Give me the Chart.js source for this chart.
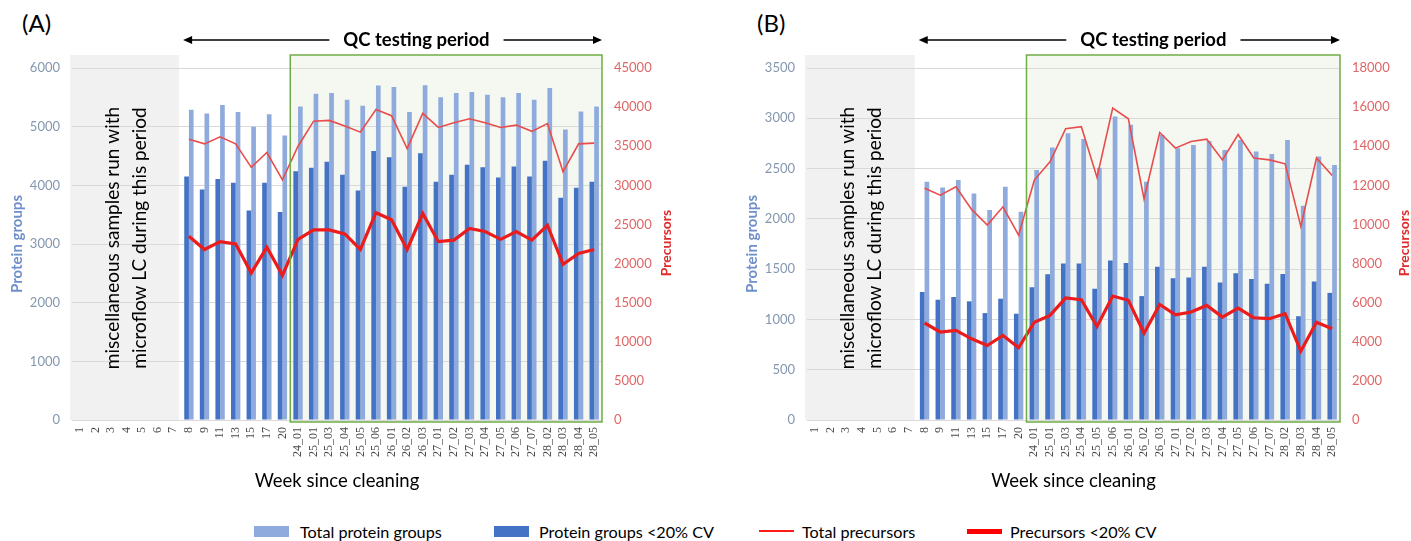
<!DOCTYPE html>
<html>
<head>
<meta charset="utf-8">
<script src="https://cdn.jsdelivr.net/npm/chart.js@4.4.1/dist/chart.umd.min.js"></script>
<style>
  html, body { margin: 0; padding: 0; background: #fff; overflow: hidden; }
  body { width: 1411px; height: 541px; position: relative; font-family: Lato, 'Open Sans', sans-serif; }
  .panel { position: absolute; top: 0; }
  .tag { position: absolute; top: 8px; font-size: 24px; color: #000; }
  .item { position: absolute; top: 522px; height: 20px; line-height: 20px; font-size: 16.2px; color: #000; white-space: nowrap; }
  .swatch { position: absolute; }
</style>
</head>
<body>
<div class="tag" style="left:22px">(A)</div>
<div class="tag" style="left:757px">(B)</div>
<div class="panel" style="left:0"><canvas id="chartA" width="700" height="500"></canvas></div>
<div class="panel" style="left:735px"><canvas id="chartB" width="676" height="500"></canvas></div>
<div id="legend"></div>
<script>
// x categories (weeks since cleaning)
const weeks = ['1', '2', '3', '4', '5', '6', '7', '8', '9', '11', '13', '15', '17', '20',
    '24_01', '25_01', '25_03', '25_04', '25_05', '25_06', '26_01', '26_02', '26_03',
    '27_01', '27_02', '27_03', '27_04', '27_05', '27_06', '27_07', '28_02', '28_03', '28_04', '28_05'];
const seriesNames = ['Total protein groups', 'Protein groups <20% CV', 'Total precursors', 'Precursors <20% CV'];
const noteLines = ['miscellaneous samples run with', 'microflow LC during this period'];
const nil = [null, null, null, null, null, null, null];

// panel A
const totalProteinsA = nil.concat([5290, 5225, 5370, 5250, 5000, 5210, 4850,
    5345, 5560, 5575, 5460, 5355, 5700, 5675, 5250, 5705, 5500, 5575, 5590, 5545, 5500, 5575, 5460, 5660, 4950, 5260, 5345]);
const cvProteinsA = nil.concat([4150, 3930, 4110, 4045, 3570, 4045, 3545,
    4240, 4300, 4400, 4180, 3910, 4585, 4480, 3975, 4545, 4060, 4180, 4350, 4310, 4135, 4320, 4150, 4420, 3790, 3960, 4060]);
const totalPrecursorsA = nil.concat([35900, 35300, 36200, 35300, 32300, 34200, 30700,
    35000, 38200, 38300, 37600, 36800, 39700, 38900, 34700, 39200, 37400, 38000, 38500, 38000, 37400, 37700, 36900, 37900, 31750, 35300, 35400]);
const cvPrecursorsA = nil.concat([23500, 21800, 22800, 22500, 18800, 22100, 18500,
    23100, 24300, 24300, 23800, 21800, 26500, 25600, 21800, 26400, 22800, 23000, 24500, 24100, 23100, 24100, 23000, 24900, 19900, 21300, 21800]);

// panel B
const totalProteinsB = nil.concat([2370, 2313, 2386, 2253, 2087, 2320, 2070,
    2486, 2710, 2851, 2795, 2509, 3018, 2935, 2370, 2835, 2702, 2735, 2775, 2685, 2785, 2669, 2645, 2785, 2130, 2619, 2536]);
const cvProteinsB = nil.concat([1273, 1196, 1223, 1180, 1063, 1206, 1057,
    1319, 1448, 1555, 1555, 1306, 1587, 1561, 1232, 1523, 1410, 1416, 1523, 1368, 1458, 1403, 1355, 1452, 1032, 1377, 1264]);
const totalPrecursorsB = nil.concat([11850, 11500, 11930, 10770, 9970, 10900, 9450,
    12270, 13200, 14900, 15000, 12400, 15950, 15400, 11300, 14700, 13900, 14240, 14360, 13300, 14600, 13400, 13300, 13100, 9900, 13400, 12500]);
const cvPrecursorsB = nil.concat([4960, 4500, 4580, 4150, 3810, 4320, 3700,
    5000, 5350, 6240, 6150, 4780, 6340, 6120, 4440, 5910, 5380, 5520, 5860, 5260, 5720, 5230, 5180, 5440, 3520, 5000, 4670]);

const colors = { light: '#8faadc', dark: '#4472c4', thin: '#e84c4c', thick: '#ec1c1c' };

// shaded periods, QC arrow, rotated note and right axis title
const panelDecor = {
    id: 'panelDecor',
    beforeDraw(chart) {
        const { ctx, chartArea: a, scales: { x } } = chart;
        const step = x.getPixelForValue(1) - x.getPixelForValue(0);
        const grayR = x.getPixelForValue(6) + step / 2;
        const qcL = x.getPixelForValue(14) - step / 2;
        ctx.save();
        ctx.fillStyle = '#f1f1f1';
        ctx.fillRect(a.left - 2, a.top - 13, grayR - a.left, a.bottom - a.top + 13);
        ctx.fillStyle = '#f4f8f0';
        ctx.fillRect(qcL, a.top - 13, a.right - qcL, a.bottom - a.top + 15);
        ctx.restore();
    },
    afterDatasetsDraw(chart) {
        const { ctx, chartArea: a, scales: { x } } = chart;
        const step = x.getPixelForValue(1) - x.getPixelForValue(0);
        const grayR = x.getPixelForValue(6) + step / 2;
        const qcL = x.getPixelForValue(14) - step / 2;
        ctx.save();
        // QC box border
        ctx.strokeStyle = '#70ad47';
        ctx.lineWidth = 1.5;
        ctx.strokeRect(qcL, a.top - 13, a.right - qcL, a.bottom - a.top + 15);

        // rotated note
        ctx.fillStyle = '#000';
        ctx.font = '19px Lato';
        ctx.textAlign = 'center';
        ctx.textBaseline = 'middle';
        ctx.translate((a.left + grayR) / 2 - 1, (a.top + a.bottom) / 2 - 6);
        ctx.rotate(-Math.PI / 2);
        ctx.fillText(noteLines[0], 0, -13);
        ctx.fillText(noteLines[1], 0, 14);
        ctx.setTransform(1, 0, 0, 1, 0, 0);

        // QC testing period arrow
        const L = grayR + 2, R = a.right, y = a.top - 28;
        const cx = L + 0.557 * (R - L);
        ctx.font = 'bold 18.5px Lato';
        const tw = ctx.measureText('QC testing period').width;
        ctx.fillText('QC testing period', cx, y);
        ctx.strokeStyle = '#000';
        ctx.lineWidth = 1.3;
        ctx.beginPath();
        ctx.moveTo(L + 6, y); ctx.lineTo(cx - tw / 2 - 14, y);
        ctx.moveTo(cx + tw / 2 + 14, y); ctx.lineTo(R - 6, y);
        ctx.stroke();
        ctx.beginPath();
        ctx.moveTo(L, y); ctx.lineTo(L + 9, y - 4); ctx.lineTo(L + 9, y + 4); ctx.closePath();
        ctx.moveTo(R, y); ctx.lineTo(R - 9, y - 4); ctx.lineTo(R - 9, y + 4); ctx.closePath();
        ctx.fill();

        // right axis title
        ctx.translate(a.right + 64, 243);
        ctx.rotate(-Math.PI / 2);
        ctx.fillStyle = '#e02b2b';
        ctx.font = 'bold 14px Lato';
        ctx.fillText('Precursors', 0, 0);
        ctx.restore();
    }
};

function buildPanel(id, proteins, cvProteins, precursors, cvPrecursors, leftMax, leftStep, rightMax, rightStep, rightWidth) {
    new Chart(document.getElementById(id).getContext('2d'), {
        data: {
            labels: weeks,
            datasets: [
                { type: 'line', label: seriesNames[2], data: precursors, yAxisID: 'y1', borderColor: colors.thin, borderWidth: 1.6, pointRadius: 0, order: 1 },
                { type: 'line', label: seriesNames[3], data: cvPrecursors, yAxisID: 'y1', borderColor: colors.thick, borderWidth: 3.2, pointRadius: 0, order: 0 },
                { type: 'bar', label: seriesNames[0], data: proteins, yAxisID: 'y', backgroundColor: colors.light, barPercentage: 1, categoryPercentage: 0.6, order: 3 },
                { type: 'bar', label: seriesNames[1], data: cvProteins, yAxisID: 'y', backgroundColor: colors.dark, barPercentage: 1, categoryPercentage: 0.6, order: 2 }
            ]
        },
        options: {
            responsive: false,
            animation: false,
            layout: { padding: { top: 68, left: 0, right: 0, bottom: 0 } },
            plugins: { legend: { display: false }, tooltip: { enabled: false } },
            scales: {
                x: {
                    offset: true,
                    grid: { display: false, drawTicks: false },
                    border: { display: false },
                    ticks: { autoSkip: false, minRotation: 90, maxRotation: 90, padding: 7, color: '#4a4a4a', font: { family: 'Liberation Serif', size: 12 } },
                    title: { display: true, text: 'Week since cleaning', color: '#000', font: { family: 'Lato', size: 18.5 }, padding: { top: 0, bottom: 8 } },
                    afterFit: s => { s.height = 80; }
                },
                y: {
                    position: 'left',
                    min: 0, max: leftMax,
                    grid: { color: '#d9d9d9', drawTicks: false },
                    border: { display: false },
                    ticks: { stepSize: leftStep, padding: 12, color: '#8497b0', font: { family: 'Lato', size: 13 }, callback: v => String(v) },
                    title: { display: true, text: 'Protein groups', color: '#6f8fca', font: { family: 'Lato', size: 15, weight: 'bold' }, padding: { top: 8, bottom: 0 } },
                    afterFit: s => { s.width = 72; }
                },
                y1: {
                    position: 'right',
                    min: 0, max: rightMax,
                    grid: { display: false, drawTicks: false },
                    border: { display: false },
                    ticks: { stepSize: rightStep, padding: 12, color: '#e06666', font: { family: 'Lato', size: 13 }, callback: v => String(v) },
                    afterFit: s => { s.width = rightWidth; }
                }
            }
        },
        plugins: [panelDecor]
    });
}

document.fonts.load('20px Lato').then(() => document.fonts.load('bold 17px Lato')).finally(() => {
    buildPanel('chartA', totalProteinsA, cvProteinsA, totalPrecursorsA, cvPrecursorsA, 6000, 1000, 45000, 5000, 98);
    buildPanel('chartB', totalProteinsB, cvProteinsB, totalPrecursorsB, cvPrecursorsB, 3500, 500, 18000, 2000, 71);

    // shared legend
    const legend = document.getElementById('legend');
    const items = [
        { x: 254, text: 300, kind: 'box', color: colors.light },
        { x: 494, text: 539, kind: 'box', color: colors.dark },
        { x: 759, text: 802, kind: 'thin', color: '#ff1a1a' },
        { x: 967, text: 1010, kind: 'thick', color: '#ff0000' }
    ];
    items.forEach((it, i) => {
        const sw = document.createElement('div');
        sw.className = 'swatch';
        const h = it.kind === 'box' ? 11 : (it.kind === 'thin' ? 2 : 5);
        sw.style.cssText = `left:${it.x}px;top:${531 - h / 2}px;width:35px;height:${h}px;background:${it.color}`;
        legend.appendChild(sw);
        const t = document.createElement('div');
        t.className = 'item';
        t.style.left = it.text + 'px';
        t.textContent = seriesNames[i];
        legend.appendChild(t);
    });
});
</script>
</body>
</html>
